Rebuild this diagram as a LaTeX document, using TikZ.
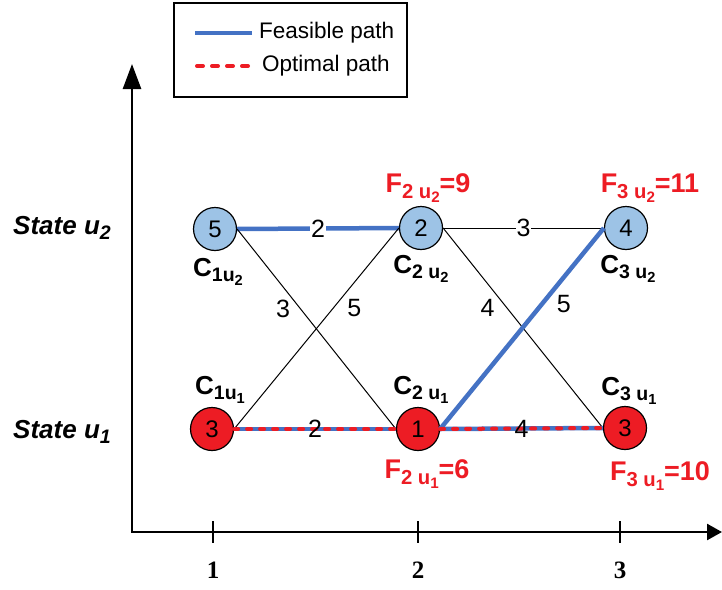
\documentclass[tikz,border=0pt]{standalone}
\usepackage{fontspec}
\setmainfont{Liberation Sans}
\newfontfamily\tickfont{Liberation Serif}
\usepackage{graphicx}
\usepackage{tikz}
\usetikzlibrary{arrows.meta, positioning}

\definecolor{feasblue}{HTML}{4472C4}
\definecolor{optred}{HTML}{ED1C24}
\definecolor{stateblue}{HTML}{9DC3E6}

\newcommand{\fsz}[1]{\fontsize{#1}{#1}\selectfont}
\newcommand{\lowsub}[1]{\raisebox{-0.4ex}{\scalebox{0.75}{#1}}}

\tikzset{
  ustate/.style={circle, draw, line width=1.2pt, fill=stateblue, minimum size=43pt, inner sep=0pt, font=\fsz{24}},
  lstate/.style={ustate, fill=optred},
  costlabel/.style={font=\fsz{26}\bfseries, inner sep=0pt},
  flabel/.style={font=\fsz{27}\bfseries, text=optred, inner sep=0pt},
  wlabel/.style={font=\fsz{25}, text=black, inner sep=1pt},
  thinedge/.style={black, line width=1pt},
  feasible/.style={feasblue, line width=4.5pt},
  optimal/.style={optred, line width=4pt, line cap=round, dash pattern=on 4pt off 9pt},
}

\begin{document}
\begin{tikzpicture}[x=1pt, y=-1pt]
  \useasboundingbox (0,0) rectangle (722,589);
  % legend
  \draw[line width=1.5pt] (174,3) rectangle (407,97);
  \node (feas) [anchor=west, font=\fsz{22.5}, inner sep=0pt] at (259,33) {Feasible path};
  \node (opt) [anchor=west, font=\fsz{22.5}, inner sep=0pt] at (262,66) {Optimal path};
  \draw[feasible] ([xshift=-7pt]feas.west) -- ++(-57,0);
  \draw[optred, line width=4pt, line cap=round, dash pattern=on 6pt off 9pt] ([xshift=-14pt]opt.west) -- ++(-53,0);
  % axes
  \coordinate (origin) at (132,532);
  \draw[line width=2.5pt, {Triangle[length=25pt,width=18pt]}-{Triangle[length=15pt,width=16pt]}] (132,64) -- (origin) -- (722,532);
  \foreach \x/\t in {213/1, 418/2, 620/3} {
    \draw[line width=1.5pt] (\x,521) -- (\x,543);
    \node (tick\t) [font=\tickfont\fsz{25}\bfseries] at (\x,570) {\t};
  }
  \node (su2) [font=\fsz{26}\bfseries\itshape] at (62,228) {State u\lowsub{2}};
  \node (su1) [font=\fsz{26}\bfseries\itshape] at (62,432) {State u\lowsub{1}};
  % states
  \node (n1u2) [ustate] at (215,229) {5};
  \node (n2u2) [ustate] at (421,228) {2};
  \node (n3u2) [ustate] at (626,228) {4};
  \node (n1u1) [lstate] at (212,429) {3};
  \node (n2u1) [lstate] at (418,429) {1};
  \node (n3u1) [lstate] at (625,428) {3};
  % transitions
  \draw[feasible] (n1u2.east) -- node[wlabel, fill=white] {2} (n2u2.west);
  \draw[thinedge] (n2u2.east) -- node[wlabel, fill=white] {3} (n3u2.west);
  \draw[thinedge] (n1u2.east) -- node[wlabel, pos=0.4, left=9pt] {3} (n2u1.west);
  \draw[thinedge] (n1u1.east) -- node[wlabel, pos=0.6, right=13pt] {5} (n2u2.west);
  \draw[thinedge] (n2u2.east) -- node[wlabel, pos=0.4, left=11pt] {4} (n3u1.west);
  \draw[feasible] (n2u1.east) -- node[wlabel, pos=0.62, right=12pt] {5} (n3u2.west);
  \draw[feasible] (n1u1.east) -- (n2u1.west);
  \draw[feasible] (n2u1.east) -- (n3u1.west);
  \draw[optimal] (n1u1.east) -- node[wlabel] {2} (n2u1.west);
  \draw[optimal] (n2u1.east) -- node[wlabel] {4} (n3u1.west);
  % costs
  \node (c1u2) [costlabel] at (218,272) {C\lowsub{1u\lowsub{2}}};
  \node (c2u2) [costlabel] at (421,269) {C\lowsub{2 u\lowsub{2}}};
  \node (c3u2) [costlabel] at (628,269) {C\lowsub{3 u\lowsub{2}}};
  \node (c1u1) [costlabel] at (220,390) {C\lowsub{1u\lowsub{1}}};
  \node (c2u1) [costlabel] at (421,390) {C\lowsub{2 u\lowsub{1}}};
  \node (c3u1) [costlabel] at (629,391) {C\lowsub{3 u\lowsub{1}}};
  \node (f2u2) [flabel] at (428,188) {F\lowsub{2 u\lowsub{2}}=9};
  \node (f3u2) [flabel] at (650,188) {F\lowsub{3 u\lowsub{2}}=11};
  \node (f2u1) [flabel] at (427,474) {F\lowsub{2 u\lowsub{1}}=6};
  \node (f3u1) [flabel] at (660,476) {F\lowsub{3 u\lowsub{1}}=10};
\end{tikzpicture}
\end{document}
